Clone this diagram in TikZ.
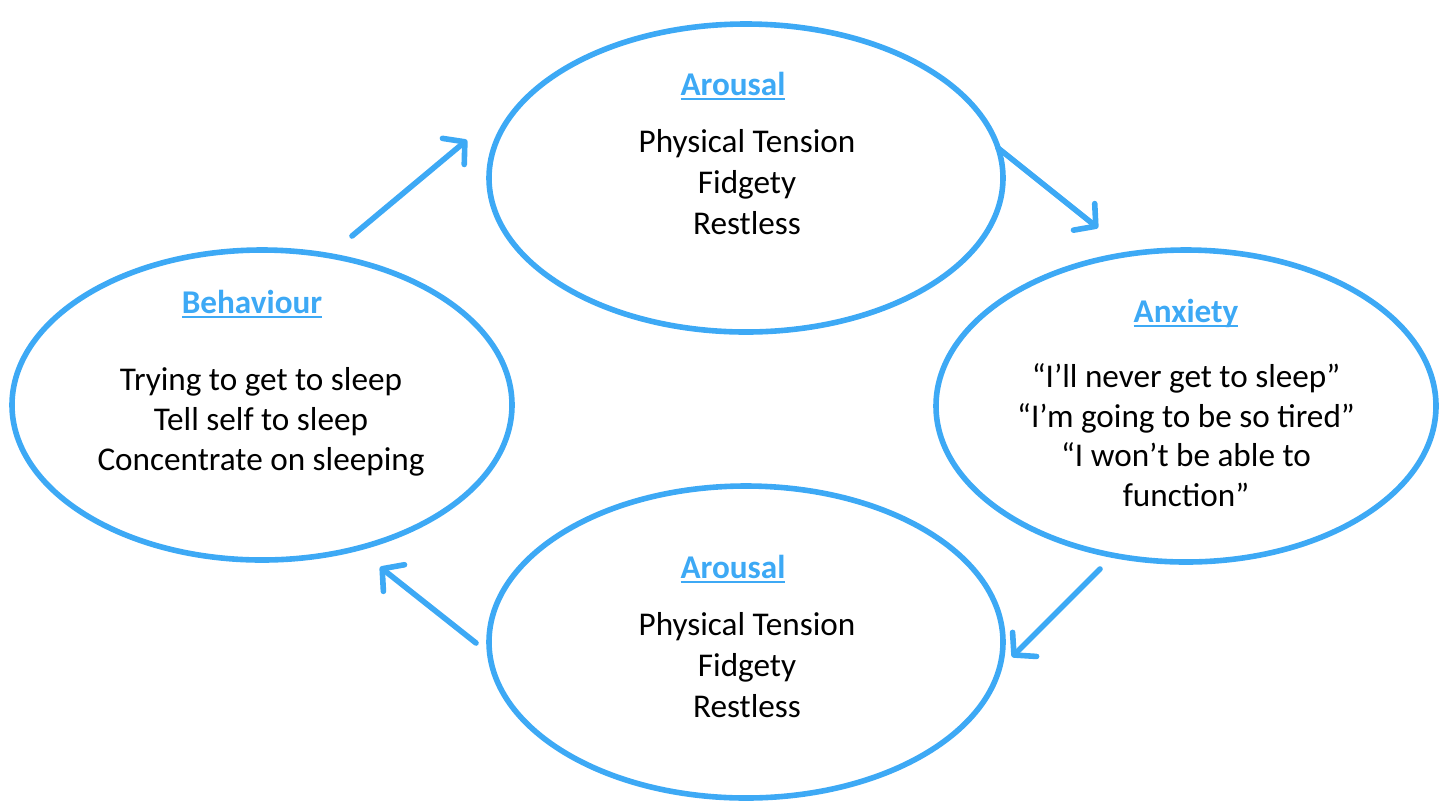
\documentclass[tikz,border=0pt]{standalone}
\usepackage{fontspec}
\setmainfont{Carlito}
\usetikzlibrary{arrows.meta,shapes.geometric}
\definecolor{skyb}{RGB}{61,169,245}
\newcommand\hdg[1]{\setbox0\hbox{\bfseries #1}\rlap{\rule[-2.3pt]{\wd0}{0.9pt}}\box0}
\tikzset{
  ell/.style={ellipse, draw=skyb, line width=2.8pt, inner sep=0pt},
  arr/.style={draw=skyb, line width=2.8pt, line cap=round, -{Straight Barb[round,length=7.5pt,width=17pt]}},
  body/.style={anchor=base, inner sep=0pt, font=\fontsize{16.6}{20.5}\selectfont, text=black},
  head/.style={anchor=base, inner sep=0pt, font=\fontsize{16.6}{20.5}\selectfont, text=skyb},
}
\begin{document}
\begin{tikzpicture}[x=0.5pt, y=-0.5pt]
\useasboundingbox (0,0) rectangle (1446,800);
% ellipses
\node[ell, minimum width=257pt, minimum height=154pt] (top) at (746,178) {};
\node[ell, minimum width=250pt, minimum height=156pt] (right) at (1186,406) {};
\node[ell, minimum width=257pt, minimum height=156pt] (bottom) at (746,642) {};
\node[ell, minimum width=250pt, minimum height=155pt] (left) at (262,405) {};
% top texts
\node[head] (th) at (733,95) {\hdg{Arousal}};
\node[body] (t1) at (747,152) {Physical Tension};
\node[body] (t2) at (747,193) {Fidgety};
\node[body] (t3) at (747,234) {Restless};
% right texts
\node[head] (rh) at (1186,322) {\hdg{Anxiety}};
\node[body] (r1) at (1186,387) {“I’ll never get to sleep”};
\node[body] (r2) at (1186,427) {“I’m going to be so tired”};
\node[body] (r3) at (1186,466) {“I won’t be able to};
\node[body] (r4) at (1186,506) {function”};
% bottom texts
\node[head] (bh) at (733,578) {\hdg{Arousal}};
\node[body] (b1) at (747,635) {Physical Tension};
\node[body] (b2) at (747,676) {Fidgety};
\node[body] (b3) at (747,717) {Restless};
% left texts
\node[head] (lh) at (252,313) {\hdg{Behaviour}};
\node[body] (l1) at (261,390) {Trying to get to sleep};
\node[body] (l2) at (261,430) {Tell self to sleep};
\node[body] (l3) at (261,470) {Concentrate on sleeping};
% arrows
\coordinate (a1s) at (352,236);
\coordinate (a1e) at (467,140);
\coordinate (a2s) at (998,148);
\coordinate (a2e) at (1098,228);
\coordinate (a3s) at (1100,569);
\coordinate (a3e) at (1012,657);
\coordinate (a4s) at (476,643);
\coordinate (a4e) at (380,567);
\draw[arr] (a1s) -- (a1e);
\draw[arr] (a2s) -- (a2e);
\draw[arr] (a3s) -- (a3e);
\draw[arr] (a4s) -- (a4e);
\end{tikzpicture}
\end{document}
